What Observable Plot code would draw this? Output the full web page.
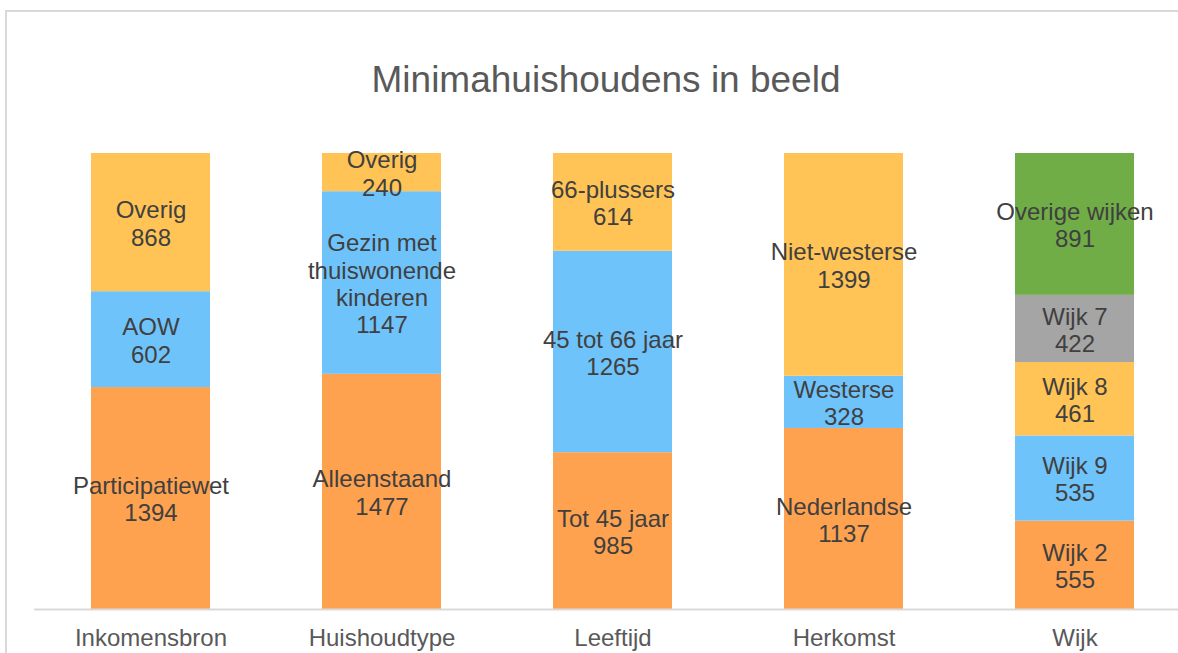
<!DOCTYPE html>
<html>
<head>
<meta charset="utf-8">
<script src="https://cdn.jsdelivr.net/npm/d3@7"></script>
<script src="https://cdn.jsdelivr.net/npm/@observablehq/plot@0.6"></script>
<style>
  html, body { margin: 0; padding: 0; background: #fff; }
  #wrap { position: relative; width: 1178px; height: 653px; overflow: hidden; font-family: "Liberation Sans", Arial, sans-serif; }
  #frame { position: absolute; left: 5px; top: 10px; width: 1300px; height: 800px; border-left: 2px solid #d9d9d9; border-top: 2px solid #d9d9d9; box-sizing: border-box; }
  #title { position: absolute; left: 6px; width: 1200px; top: 58px; text-align: center; font-size: 37px; color: #595959; line-height: 44px; }
  #chart { position: absolute; left: 0; top: 0; }
</style>
</head>
<body>
<div id="wrap">
  <div id="frame"></div>
  <div id="title">Minimahuishoudens in beeld</div>
  <div id="chart"></div>
</div>
<script>
const categories = ["Inkomensbron", "Huishoudtype", "Leeftijd", "Herkomst", "Wijk"];

const inkomensbronLabels = ["Participatiewet", "AOW", "Overig"];
const inkomensbronValues = [1394, 602, 868];

const huishoudtypeLabels = ["Alleenstaand", "Gezin met\nthuiswonende\nkinderen", "Overig"];
const huishoudtypeValues = [1477, 1147, 240];

const leeftijdLabels = ["Tot 45 jaar", "45 tot 66 jaar", "66-plussers"];
const leeftijdValues = [985, 1265, 614];

const herkomstLabels = ["Nederlandse", "Westerse", "Niet-westerse"];
const herkomstValues = [1137, 328, 1399];

const wijkLabels = ["Wijk 2", "Wijk 9", "Wijk 8", "Wijk 7", "Overige wijken"];
const wijkValues = [555, 535, 461, 422, 891];

const groups = [
  [categories[0], inkomensbronLabels, inkomensbronValues],
  [categories[1], huishoudtypeLabels, huishoudtypeValues],
  [categories[2], leeftijdLabels, leeftijdValues],
  [categories[3], herkomstLabels, herkomstValues],
  [categories[4], wijkLabels, wijkValues]
];

const rows = groups.flatMap(([cat, labels, values]) =>
  values.map((v, i) => ({cat, label: labels[i], value: v, idx: i}))
);

const segColors = ["#FFA24F", "#6FC3FB", "#FFC455", "#A5A5A5", "#70AD47"];

const chart = Plot.plot({
  width: 1178,
  height: 653,
  marginTop: 153,
  marginBottom: 44,
  marginLeft: 34,
  marginRight: 0,
  style: {fontFamily: "'Liberation Sans', Arial, sans-serif", background: "transparent", overflow: "visible"},
  x: {domain: categories, range: [34.4, 1190.6], paddingInner: 0.485, paddingOuter: 0.2425, label: null},
  y: {domain: [0, 2864], axis: null},
  color: {domain: [0, 1, 2, 3, 4], range: segColors},
  marks: [
    Plot.barY(rows, Plot.stackY({x: "cat", y: "value", fill: d => d.idx, order: null})),
    Plot.ruleY([0], {stroke: "#d9d9d9", strokeWidth: 2}),
    Plot.text(rows, Plot.stackY({
      x: "cat", y: "value", order: null,
      text: d => d.label + "\n" + d.value,
      fill: "#404040", fontSize: 24, lineHeight: 1.14, dy: 0.5
    })),
    Plot.axisX({tickSize: 0, tickPadding: 19, fontSize: 24, color: "#595959", label: null})
  ]
});
document.getElementById("chart").appendChild(chart);
</script>
</body>
</html>
